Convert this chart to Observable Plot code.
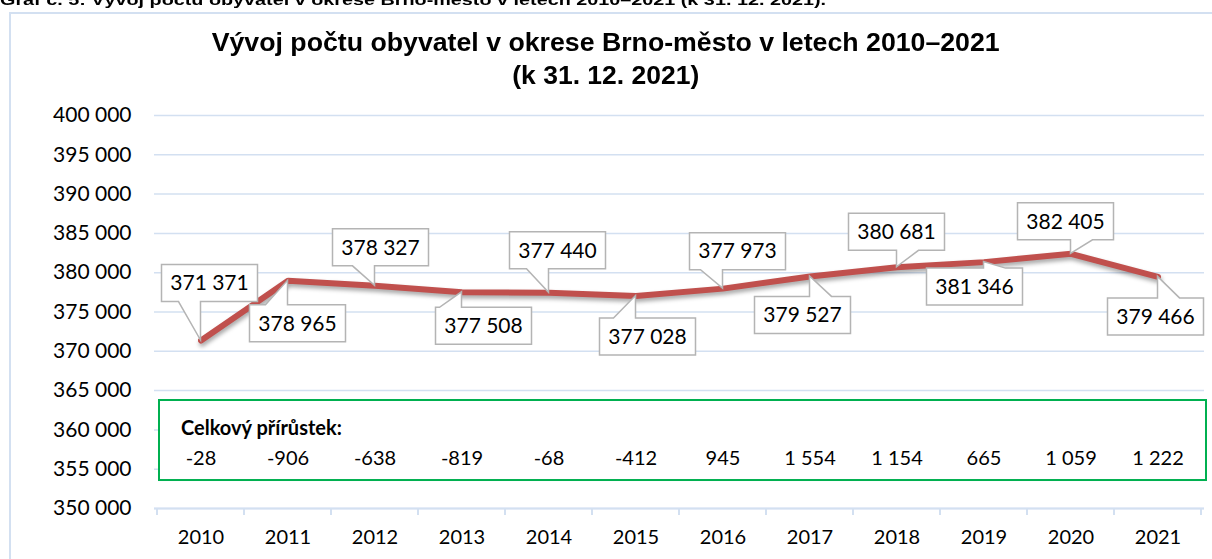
<!DOCTYPE html>
<html>
<head>
<meta charset="utf-8">
<script src="https://cdn.jsdelivr.net/npm/d3@7"></script>
<script src="https://cdn.jsdelivr.net/npm/@observablehq/plot@0.6"></script>
<style>
  html, body { margin: 0; padding: 0; background: #fff; }
  #wrap { position: relative; width: 1212px; height: 559px; overflow: hidden; font-family: Lato, "Open Sans", sans-serif; }
  #caption { position: absolute; left: 0; top: -8px; font: bold 15px/15px "Liberation Sans", Arial, sans-serif; white-space: nowrap; color: #000; transform-origin: 0 50%; }
  #frame { position: absolute; left: 9px; top: 12px; width: 1240px; height: 620px; border: 2px solid #D3E0F1; box-sizing: border-box; pointer-events: none; }
  #title { position: relative; height: 95px; }
  .tl { position: absolute; left: 0; width: 1212px; text-align: center; font: bold 26px/33px "Liberation Sans", Arial, sans-serif; color: #000; white-space: nowrap; }
  .tl span { display: inline-block; transform-origin: 50% 50%; }
  #chart svg { display: block; }
  #chart g[aria-label="line"] path { filter: drop-shadow(1px 3px 2px rgba(0,0,0,0.35)); }
</style>
</head>
<body>
<div id="wrap">
  <div id="caption"><span id="capText">Graf č. 5: Vývoj počtu obyvatel v okrese Brno-město v letech 2010–2021 (k 31. 12. 2021).</span></div>
  <div id="frame"></div>
  <div id="title">
    <div class="tl" style="top:26px"><span id="t1">Vývoj počtu obyvatel v okrese Brno-město v letech 2010–2021</span></div>
    <div class="tl" style="top:59px"><span id="t2">(k 31. 12. 2021)</span></div>
  </div>
  <div id="chart"></div>
</div>
<script>
// ---- data ----
const years = ["2010","2011","2012","2013","2014","2015","2016","2017","2018","2019","2020","2021"];
const population = [371371, 378965, 378327, 377508, 377440, 377028, 377973, 379527, 380681, 381346, 382405, 379466];
const increase = [-28, -906, -638, -819, -68, -412, 945, 1554, 1154, 665, 1059, 1222];
const yTicks = [350000, 355000, 360000, 365000, 370000, 375000, 380000, 385000, 390000, 395000, 400000];
const increaseTitle = "Celkový přírůstek:";

// ---- layout (annotation placement, in px relative to each point) ----
const calloutOffsets = [[9,-57],[10,43],[6,-38],[22,34],[9,-42],[12,41],[15,-37],[-7,39],[0,-35],[-9,25],[-5,-32],[-2,40]];
const boxTop = 363740, boxBottom = 353560, headerY = 360180, valuesY = 356360;

const cz = d3.formatLocale({decimal: ",", thousands: " ", grouping: [3], currency: ["", " Kč"], minus: "-"});
const fmt = cz.format(",d");

const data = years.map((year, i) => ({year, value: population[i], inc: increase[i], off: calloutOffsets[i]}));

// green summary box
function summaryBox(index, scales) {
  const x = scales.x, y = scales.y;
  const x0 = x(years[0]) + 2, x1 = x(years[years.length - 1]) + x.bandwidth() + 5;
  const g = d3.create("svg:g");
  g.append("rect")
    .attr("x", x0).attr("y", y(boxTop))
    .attr("width", x1 - x0).attr("height", y(boxBottom) - y(boxTop))
    .attr("fill", "#fff").attr("stroke", "#00B050").attr("stroke-width", 2);
  return g.node();
}

// category boundary ticks on the x axis
function boundaryTicks(index, scales) {
  const x = scales.x, y = scales.y;
  const g = d3.create("svg:g").attr("stroke", "#D3E0F1").attr("stroke-width", 2);
  const edges = years.map(d => x(d)).concat([x(years[years.length - 1]) + x.bandwidth()]);
  for (const e of edges) {
    g.append("line").attr("x1", e).attr("x2", e).attr("y1", y(yTicks[0])).attr("y2", y(yTicks[0]) + 7);
  }
  return g.node();
}

// callout data labels
function callouts(index, scales) {
  const x = scales.x, y = scales.y, bw = x.bandwidth();
  const g = d3.create("svg:g");
  const W = 96, H = 37;
  for (const d of data) {
    const px = x(d.year) + bw / 2, py = y(d.value);
    const cx = px + d.off[0], cy = py + d.off[1];
    const L = cx - W / 2, R = cx + W / 2, T = cy - H / 2, B = cy + H / 2;
    let a, b;
    if (cx > px) { a = px - 22; b = px; } else { a = px; b = px + 22; }
    if (a < L + 2) { a = L + 2; b = a + 22; }
    if (b > R - 2) { b = R - 2; a = b - 22; }
    let p;
    if (py > B) {
      p = `M${L},${T}H${R}V${B}H${b}L${px},${py}L${a},${B}H${L}Z`;
    } else {
      p = `M${L},${T}H${a}L${px},${py}L${b},${T}H${R}V${B}H${L}Z`;
    }
    g.append("path").attr("d", p).attr("fill", "#fff").attr("stroke", "#B4B4B4").attr("stroke-width", 1.5).attr("stroke-linejoin", "miter");
    g.append("text").attr("x", cx).attr("y", cy).attr("dy", "0.35em")
      .attr("text-anchor", "middle").attr("font-size", 21).attr("fill", "#000")
      .text(fmt(d.value));
  }
  return g.node();
}

const plot = Plot.plot({
  width: 1212,
  height: 464,
  marginTop: 20,
  marginBottom: 51,
  marginLeft: 154,
  marginRight: 8,
  style: { fontFamily: "Lato, 'Open Sans', sans-serif", fontSize: "20px", color: "#000", background: "transparent", overflow: "visible" },
  x: { type: "band", domain: years, padding: 0 },
  y: { domain: [350000, 400000] },
  marks: [
    Plot.gridY(yTicks, { stroke: "#D3E0F1", strokeOpacity: 1, strokeWidth: 1.5 }),
    Plot.ruleY([yTicks[0]], { stroke: "#D3E0F1", strokeWidth: 2 }),
    boundaryTicks,
    Plot.axisY({ ticks: yTicks, tickFormat: fmt, tickSize: 0, tickPadding: 23, fontSize: 21, label: null }),
    Plot.axisX({ tickSize: 0, tickPadding: 21, fontSize: 20, label: null }),
    summaryBox,
    Plot.text([increaseTitle], { x: () => years[0], y: () => headerY, text: d => d, textAnchor: "start", dx: -20, fontWeight: "bold", fontSize: 20 }),
    Plot.text(data, { x: "year", y: () => valuesY, text: d => fmt(d.inc), fontSize: 20 }),
    Plot.line(data, { x: "year", y: "value", stroke: "#C0504D", strokeWidth: 6, strokeLinecap: "round", strokeLinejoin: "round" }),
    callouts
  ]
});
document.getElementById("chart").appendChild(plot);

// horizontal condensing of the Arial-Narrow-like headings
function fitWidth(id, target) {
  const el = document.getElementById(id);
  const w = el.getBoundingClientRect().width;
  if (w > 0) el.style.transform = `scaleX(${target / w})`;
}
fitWidth("t1", 788);
fitWidth("t2", 187);
fitWidth("capText", 826);
document.getElementById("capText").style.display = "inline-block";
document.getElementById("capText").style.transformOrigin = "0 50%";
</script>
</body>
</html>
